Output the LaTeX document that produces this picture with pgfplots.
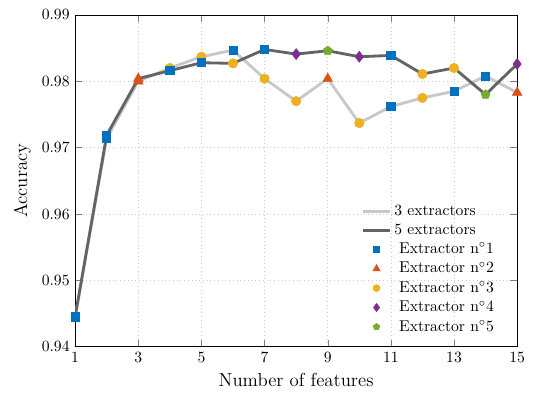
\documentclass[border=0pt]{standalone}
\usepackage{pgfplots}
\pgfplotsset{compat=1.18}
\definecolor{c1}{RGB}{0,114,189}
\definecolor{c2}{RGB}{217,83,25}
\definecolor{c3}{RGB}{237,177,32}
\definecolor{c4}{RGB}{126,47,142}
\definecolor{c5}{RGB}{119,172,48}
\definecolor{lightl}{RGB}{200,200,200}
\definecolor{darkl}{RGB}{100,100,100}
\begin{document}
\begin{tikzpicture}
\begin{axis}[
  scale only axis,
  width=282.5pt, height=212pt,
  xmin=1, xmax=15, ymin=0.94, ymax=0.99,
  xtick={1,3,...,15},
  ytick={0.94,0.95,0.96,0.97,0.98,0.99},
  yticklabel style={/pgf/number format/fixed,/pgf/number format/precision=2,/pgf/number format/fixed zerofill},
  grid=major,
  major grid style={dotted, gray!40},
  xlabel={\large Number of features},
  ylabel={\large Accuracy},
  legend style={at={(0.966,0.02)}, anchor=south east, draw=none, fill=none, font=\normalsize},
  legend cell align=left,
]
% 3 extractors line
\addplot[lightl, line width=1.8pt] coordinates {
(1,0.9445)(2,0.9714)(3,0.9800)(4,0.9820)(5,0.9837)(6,0.9847)(7,0.9804)(8,0.9770)(9,0.9804)(10,0.9737)(11,0.9762)(12,0.9775)(13,0.9785)(14,0.9808)(15,0.9783)};
\addlegendentry{3 extractors}
\addplot[only marks, mark=square*, mark size=2.6pt, c1, forget plot] coordinates {(1,0.9445)(2,0.9714)(6,0.9847)(11,0.9762)(13,0.9785)(14,0.9808)};
\addplot[only marks, mark=triangle*, mark size=3.5pt, c2, forget plot] coordinates {(3,0.9800)(9,0.9804)(15,0.9783)};
\addplot[only marks, mark=*, mark size=3pt, c3, forget plot] coordinates {(4,0.9820)(5,0.9837)(7,0.9804)(8,0.9770)(10,0.9737)(12,0.9775)};
% 5 extractors line
\addplot[darkl, line width=1.8pt] coordinates {
(1,0.9445)(2,0.9719)(3,0.9804)(4,0.9816)(5,0.9828)(6,0.9827)(7,0.9848)(8,0.9841)(9,0.9846)(10,0.9837)(11,0.9839)(12,0.9811)(13,0.9820)(14,0.9780)(15,0.9826)};
\addlegendentry{5 extractors}
\addplot[only marks, mark=square*, mark size=2.6pt, c1, forget plot] coordinates {(1,0.9445)(2,0.9719)(4,0.9816)(5,0.9828)(7,0.9848)(11,0.9839)};
\addplot[only marks, mark=triangle*, mark size=3.5pt, c2, forget plot] coordinates {(3,0.9804)};
\addplot[only marks, mark=*, mark size=3pt, c3, forget plot] coordinates {(6,0.9827)(12,0.9811)(13,0.9820)};
\addplot[only marks, mark=diamond*, mark size=3.5pt, c4, forget plot] coordinates {(8,0.9841)(10,0.9837)(15,0.9826)};
\addplot[only marks, mark=pentagon*, mark size=3pt, c5, forget plot] coordinates {(9,0.9846)(14,0.9780)};
\addlegendimage{only marks, mark=square*, mark size=2pt, c1}
\addlegendentry{\hspace{3pt}Extractor n$^\circ$1}
\addlegendimage{only marks, mark=triangle*, mark size=2.6pt, c2}
\addlegendentry{\hspace{3pt}Extractor n$^\circ$2}
\addlegendimage{only marks, mark=*, mark size=2.2pt, c3}
\addlegendentry{\hspace{3pt}Extractor n$^\circ$3}
\addlegendimage{only marks, mark=diamond*, mark size=2.6pt, c4}
\addlegendentry{\hspace{3pt}Extractor n$^\circ$4}
\addlegendimage{only marks, mark=pentagon*, mark size=2.2pt, c5}
\addlegendentry{\hspace{3pt}Extractor n$^\circ$5}
\end{axis}
\path ([shift={(-5.5pt,-1pt)}]current bounding box.south west) ([shift={(5pt,3pt)}]current bounding box.north east);
\end{tikzpicture}
\end{document}
